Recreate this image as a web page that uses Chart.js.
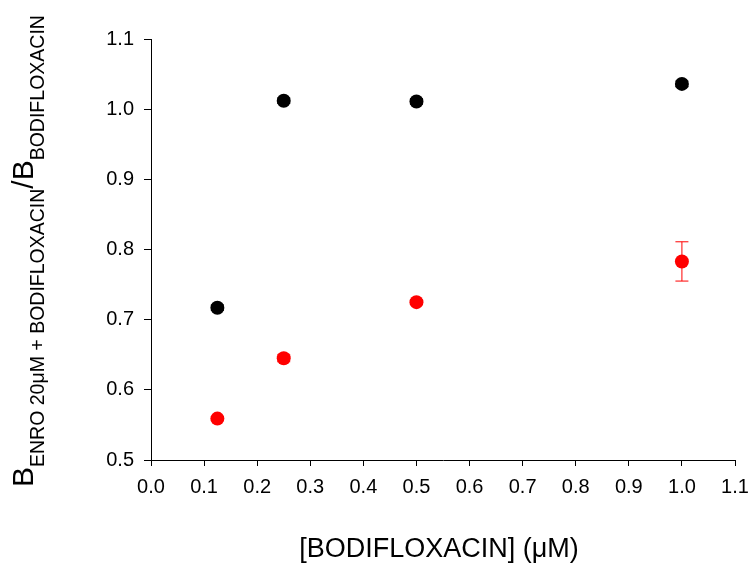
<!DOCTYPE html>
<html>
<head>
<meta charset="utf-8">
<script src="https://cdn.jsdelivr.net/npm/chart.js@4"></script>
<style>
  html, body { margin: 0; padding: 0; background: #fff; }
  canvas { display: block; }
</style>
</head>
<body>
<canvas id="ratioChart" width="751" height="564"></canvas>
<script>
// Data
const concentrations = [0.125, 0.25, 0.5, 1.0];
const blackValues = [0.717, 1.012, 1.011, 1.036];
const blackErrors = [0.004, 0.004, 0.004, 0.004];
const redValues = [0.559, 0.645, 0.725, 0.783];
const redErrors = [0.003, 0.005, 0.003, 0.028];
const xTicks = [0, 0.1, 0.2, 0.3, 0.4, 0.5, 0.6, 0.7, 0.8, 0.9, 1.0, 1.1];
const yTicks = [0.5, 0.6, 0.7, 0.8, 0.9, 1.0, 1.1];

const FONT = "'Liberation Sans', Arial, sans-serif";

function toPoints(xs, ys) {
  return xs.map((x, i) => ({ x: x, y: ys[i] }));
}

// vertical error bars with caps, drawn under the markers
const errorBars = {
  id: "errorBars",
  beforeDatasetsDraw(chart) {
    const ctx = chart.ctx;
    const yScale = chart.scales.y;
    chart.data.datasets.forEach((ds, i) => {
      const meta = chart.getDatasetMeta(i);
      ctx.save();
      ctx.strokeStyle = ds.backgroundColor;
      ctx.lineWidth = 1;
      meta.data.forEach((pt, j) => {
        const v = ds.data[j].y;
        const e = ds.errors[j];
        const top = yScale.getPixelForValue(v + e);
        const bottom = yScale.getPixelForValue(v - e);
        ctx.beginPath();
        ctx.moveTo(pt.x, top);
        ctx.lineTo(pt.x, bottom);
        ctx.moveTo(pt.x - 6.5, top);
        ctx.lineTo(pt.x + 6.5, top);
        ctx.moveTo(pt.x - 6.5, bottom);
        ctx.lineTo(pt.x + 6.5, bottom);
        ctx.stroke();
      });
      ctx.restore();
    });
  },
};

// axis titles with subscripts
const axisTitles = {
  id: "axisTitles",
  afterDraw(chart) {
    const ctx = chart.ctx;
    ctx.save();
    ctx.fillStyle = "#000";
    ctx.textBaseline = "alphabetic";
    ctx.textAlign = "center";
    ctx.font = "27px " + FONT;
    ctx.fillText("[BODIFLOXACIN] (\u03bcM)", 439, 557);

    // y title, rotated, read bottom to top
    const parts = [
      { text: "B", size: 30, shift: 0 },
      { text: "ENRO 20\u03bcM + BODIFLOXACIN", size: 19.5, shift: 11 },
      { text: "/B", size: 30, shift: 0 },
      { text: "BODIFLOXACIN", size: 19.5, shift: 11 },
    ];
    ctx.translate(33, 487);
    ctx.rotate(-Math.PI / 2);
    ctx.textAlign = "left";
    let pos = 0;
    parts.forEach((p) => {
      ctx.font = p.size + "px " + FONT;
      ctx.fillText(p.text, pos, p.shift);
      pos += ctx.measureText(p.text).width;
    });
    ctx.restore();
  },
};

const ctx = document.getElementById("ratioChart").getContext("2d");

new Chart(ctx, {
  type: "scatter",
  data: {
    datasets: [
      {
        label: "black",
        data: toPoints(concentrations, blackValues),
        errors: blackErrors,
        backgroundColor: "#000000",
        borderColor: "#000000",
        pointRadius: 7,
        pointBorderWidth: 0,
        showLine: false,
      },
      {
        label: "red",
        data: toPoints(concentrations, redValues),
        errors: redErrors,
        backgroundColor: "#ff0000",
        borderColor: "#ff0000",
        pointRadius: 7,
        pointBorderWidth: 0,
        showLine: false,
      },
    ],
  },
  options: {
    responsive: false,
    animation: false,
    events: [],
    layout: {
      padding: { top: 39, right: 16, left: 0, bottom: 0 },
    },
    plugins: {
      legend: { display: false },
      tooltip: { enabled: false },
    },
    scales: {
      x: {
        type: "linear",
        min: 0,
        max: 1.1,
        afterFit: (scale) => {
          scale.height = 104;
          scale.paddingLeft = 0;
          scale.paddingRight = 0;
        },
        afterBuildTicks: (scale) => { scale.ticks = xTicks.map((v) => ({ value: v })); },
        grid: {
          drawOnChartArea: false,
          drawTicks: true,
          tickLength: 6,
          color: "#000",
          lineWidth: 1,
        },
        border: { display: true, color: "#000", width: 1 },
        ticks: {
          color: "#000",
          padding: 9,
          maxRotation: 0,
          font: { family: FONT, size: 20 },
          callback: (v) => Number(v).toFixed(1),
        },
      },
      y: {
        type: "linear",
        min: 0.5,
        max: 1.1,
        afterFit: (scale) => {
          scale.width = 151;
          scale.paddingTop = 0;
          scale.paddingBottom = 0;
        },
        afterBuildTicks: (scale) => { scale.ticks = yTicks.map((v) => ({ value: v })); },
        grid: {
          drawOnChartArea: false,
          drawTicks: true,
          tickLength: 7,
          color: "#000",
          lineWidth: 1,
        },
        border: { display: true, color: "#000", width: 1 },
        ticks: {
          color: "#000",
          padding: 10,
          font: { family: FONT, size: 20 },
          callback: (v) => Number(v).toFixed(1),
        },
      },
    },
  },
  plugins: [errorBars, axisTitles],
});
</script>
</body>
</html>
